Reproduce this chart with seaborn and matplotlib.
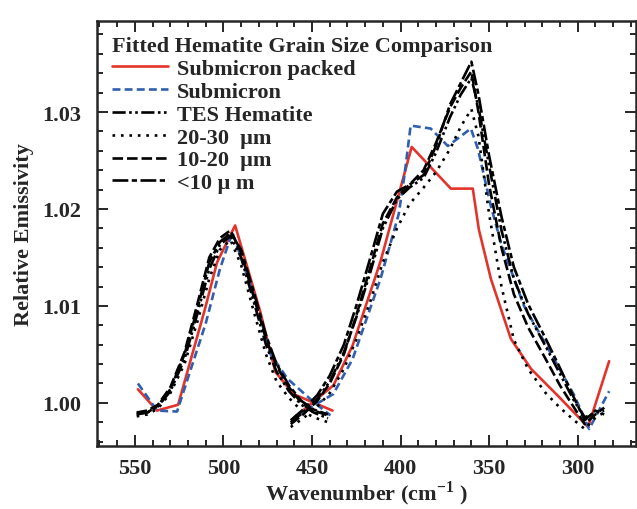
import matplotlib
matplotlib.use("Agg")
import matplotlib.pyplot as plt
import pandas as pd
import seaborn as sns
from matplotlib.ticker import MultipleLocator

# two measured pieces per spectrum (they overlap near 450 cm-1)
red_x1 = [548.3, 537.5, 525.6, 510.4, 503.6, 493.4, 479.2, 470.7, 460.5, 438.4]
red_y1 = [1.0014, 0.9992, 0.9998, 1.0097, 1.0145, 1.0183, 1.0094, 1.0032, 1.0009, 0.9992]
red_x2 = [460.5, 437.9, 427.1, 411.3, 393.7, 371.6, 359.2, 355.8, 349.0, 337.7, 326.3, 311.0, 294.1, 282.2]
red_y2 = [0.9984, 1.0018, 1.0059, 1.0146, 1.0264, 1.0221, 1.0221, 1.0179, 1.0128, 1.0066, 1.0035, 1.0007, 0.9975, 1.0043]

blue_x1 = [548.3, 537.5, 526.2, 510.0, 502.0, 495.0, 482.0, 473.6, 463.9, 449.8, 439.6]
blue_y1 = [1.0020, 0.9992, 0.9991, 1.0082, 1.0138, 1.0176, 1.0107, 1.0051, 1.0025, 1.0002, 0.9987]
blue_x2 = [459.4, 438.0, 427.1, 411.3, 401.0, 397.7, 394.3, 383.0, 373.3, 366.0, 360.3, 356.3,
           349.0, 343.3, 330.3, 313.3, 302.0, 293.5, 282.2]
blue_y2 = [0.9986, 1.0009, 1.0045, 1.0128, 1.0195, 1.0236, 1.0286, 1.0283, 1.0265, 1.0275, 1.0283, 1.0262,
           1.0203, 1.0165, 1.0100, 1.0045, 1.0008, 0.9973, 1.0012]

black_x1 = [549, 543, 537, 530, 522, 515, 508, 502, 496, 490, 483, 476, 470, 463, 456, 449, 441]
black_x2 = [462, 455, 447, 440, 432, 425, 417, 410, 402, 395, 387, 380, 372, 366, 360, 356,
            350, 343, 336, 328, 318, 310, 302, 296, 290, 285]

tes_y1 = [0.9989, 0.9990, 0.9996, 1.0012, 1.0045, 1.0090, 1.0138, 1.0163, 1.0172, 1.0150, 1.0105,
          1.0060, 1.0032, 1.0012, 0.9998, 0.9990, 0.9984]
tes_y2 = [0.9980, 0.9990, 1.0004, 1.0022, 1.0052, 1.0088, 1.0135, 1.0180, 1.0210, 1.0222, 1.0232,
          1.0258, 1.0295, 1.0318, 1.0335, 1.0305, 1.0245, 1.0178, 1.0128, 1.0092, 1.0058, 1.0030,
          1.0002, 0.9985, 0.9990, 0.9992]
g2030_y1 = [0.9986, 0.9988, 0.9994, 1.0010, 1.0040, 1.0082, 1.0128, 1.0158, 1.0168, 1.0142, 1.0095,
            1.0050, 1.0022, 1.0005, 0.9992, 0.9985, 0.9980]
g2030_y2 = [0.9975, 0.9984, 0.9996, 1.0010, 1.0035, 1.0065, 1.0105, 1.0145, 1.0180, 1.0205, 1.0222,
            1.0238, 1.0262, 1.0285, 1.0303, 1.0275, 1.0195, 1.0120, 1.0065, 1.0035, 1.0010, 0.9995,
            0.9982, 0.9973, 0.9985, 0.9990]
g1020_y1 = [0.9990, 0.9992, 0.9998, 1.0016, 1.0052, 1.0100, 1.0150, 1.0170, 1.0178, 1.0155, 1.0110,
            1.0066, 1.0038, 1.0016, 1.0000, 0.9992, 0.9987]
g1020_y2 = [0.9978, 0.9988, 1.0002, 1.0020, 1.0050, 1.0090, 1.0140, 1.0185, 1.0212, 1.0225, 1.0240,
            1.0268, 1.0305, 1.0325, 1.0342, 1.0300, 1.0225, 1.0160, 1.0112, 1.0078, 1.0045, 1.0018,
            0.9995, 0.9978, 0.9988, 0.9995]
lt10_y1 = [0.9988, 0.9990, 0.9997, 1.0014, 1.0050, 1.0095, 1.0145, 1.0166, 1.0175, 1.0158, 1.0115,
           1.0070, 1.0040, 1.0018, 1.0002, 0.9993, 0.9988]
lt10_y2 = [0.9982, 0.9993, 1.0008, 1.0028, 1.0060, 1.0100, 1.0150, 1.0195, 1.0218, 1.0225, 1.0235,
           1.0265, 1.0308, 1.0330, 1.0352, 1.0318, 1.0255, 1.0192, 1.0140, 1.0102, 1.0066, 1.0036,
           1.0005, 0.9982, 0.9992, 0.9988]

labels = ["Submicron packed", "Submicron", "TES Hematite", "20-30  \u03bcm", "10-20  \u03bcm", "<10 \u03bc m"]

series = [
    (labels[0], red_x1, red_y1, red_x2, red_y2),
    (labels[1], blue_x1, blue_y1, blue_x2, blue_y2),
    (labels[2], black_x1, tes_y1, black_x2, tes_y2),
    (labels[3], black_x1, g2030_y1, black_x2, g2030_y2),
    (labels[4], black_x1, g1020_y1, black_x2, g1020_y2),
    (labels[5], black_x1, lt10_y1, black_x2, lt10_y2),
]

rows = []
for name, x1, y1, x2, y2 in series:
    for seg, (xs, ys) in enumerate([(x1, y1), (x2, y2)]):
        for x, y in zip(xs, ys):
            rows.append({"series": name, "segment": seg, "wavenumber": x, "emissivity": y})
df = pd.DataFrame(rows)

palette = dict(zip(labels, ["#e3342b", "#2f5fae", "black", "black", "black", "black"]))
dashes = dict(zip(labels, ["", (3, 1.6), (5, 1.3, 1, 1.3, 1, 1.3), (1, 2.2), (4, 1.5), (6, 1.3, 2, 1.3)]))

sns.set_theme(style="ticks")
plt.rcParams["font.family"] = ["Liberation Serif", "DejaVu Serif"]
plt.rcParams["font.weight"] = "bold"
plt.rcParams["mathtext.fontset"] = "custom"
plt.rcParams["mathtext.rm"] = "Liberation Serif:bold"
plt.rcParams["mathtext.bf"] = "Liberation Serif:bold"

fs = 16
fig = plt.figure(figsize=(6.37, 5.10), dpi=100)
ax = fig.add_axes([0.152, 0.124, 0.846, 0.833])

sns.lineplot(data=df, x="wavenumber", y="emissivity", hue="series", style="series",
             units="segment", estimator=None, sort=False, palette=palette, dashes=dashes,
             hue_order=labels, style_order=labels, linewidth=1.9, ax=ax)

ax.set_xlim(571.5, 267.2)
ax.set_ylim(0.99557, 1.0394)
ax.xaxis.set_major_locator(MultipleLocator(50))
ax.xaxis.set_minor_locator(MultipleLocator(10))
ax.yaxis.set_major_locator(MultipleLocator(0.01))
ax.yaxis.set_minor_locator(MultipleLocator(0.002))
ax.yaxis.set_major_formatter(matplotlib.ticker.FormatStrFormatter("%.2f"))
ax.tick_params(which="both", direction="in", top=True, right=True, width=1.4, labelsize=fs)
ax.tick_params(which="major", length=8)
ax.tick_params(axis="x", which="major", pad=9)
ax.tick_params(axis="y", which="major", pad=11)
ax.tick_params(which="minor", length=4)
for s in ax.spines.values():
    s.set_linewidth(1.8)

ax.set_xlabel("Wavenumber (cm$^{-1}$ )", fontsize=fs, fontweight="bold", labelpad=0)
ax.set_ylabel("Relative Emissivity", fontsize=fs, fontweight="bold", labelpad=6)

handles, lab = ax.get_legend_handles_labels()
leg = ax.legend(handles, lab, title="Fitted Hematite Grain Size Comparison", loc="upper left",
                frameon=False, fontsize=fs, title_fontproperties={"size": fs, "weight": "bold"},
                handlelength=2.5, handletextpad=0.4, labelspacing=0.1, borderaxespad=0.3,
                borderpad=0.4)
leg._legend_box.align = "left"

fig.savefig("out.png", dpi=100)
